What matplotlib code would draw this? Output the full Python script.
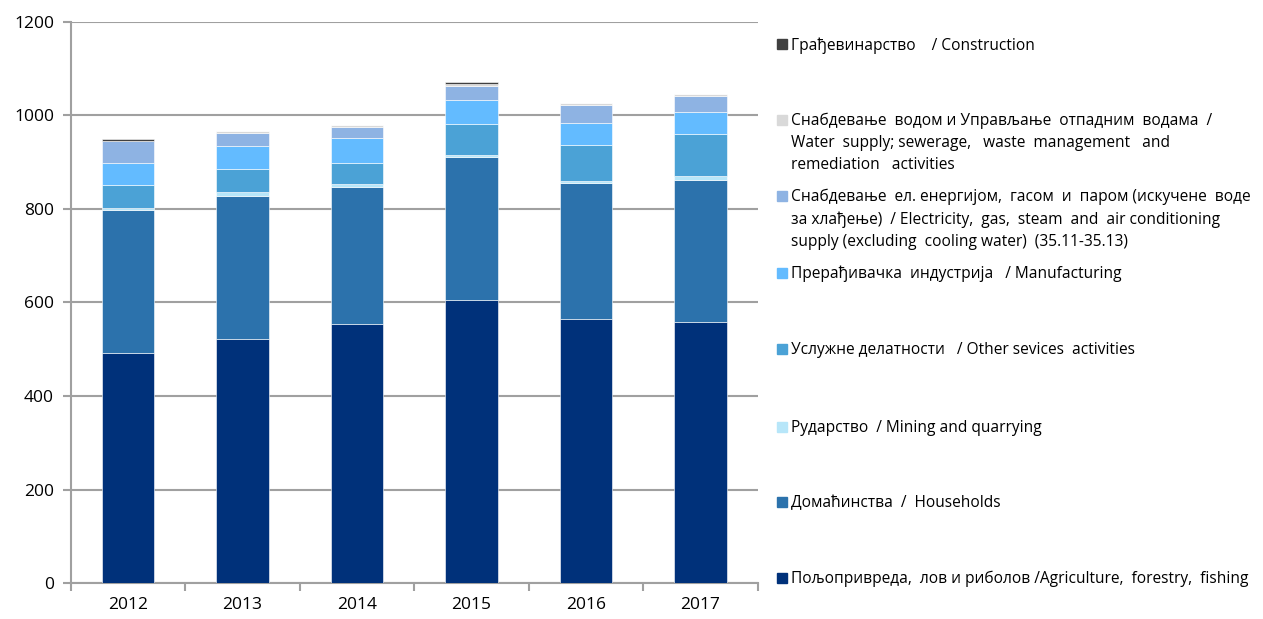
import numpy as np
import matplotlib
matplotlib.use("Agg")
import matplotlib.pyplot as plt
from matplotlib.patches import Rectangle

plt.rcParams['font.family'] = ['Open Sans', 'Noto Sans', 'DejaVu Sans']

years = ['2012', '2013', '2014', '2015', '2016', '2017']

agriculture = [491, 521, 555, 606, 564, 559]
households = [306, 306, 292, 305, 292, 302]
mining = [4, 9, 6, 5, 4, 9]
services = [51, 50, 46, 65, 77, 89]
manufacturing = [47, 48, 52, 52, 47, 48]
electricity = [46, 28, 24, 29, 38, 34]
water = [1, 4, 4, 4, 4, 5]
construction = [4, 0, 0, 5, 0, 0]

series = [agriculture, households, mining, services, manufacturing,
          electricity, water, construction]
colors = ['#00317A', '#2C72AC', '#B7E6F9', '#4BA2D6', '#63BBFF',
          '#8EB3E3', '#D9D9D9', '#404040']
labels = [
    'Пољопривреда,  лов и риболов /Agriculture,  forestry,  fishing',
    'Домаћинства  /  Households',
    'Рударство  / Mining and quarrying',
    'Услужне делатности   / Other sevices  activities',
    'Прерађивачка  индустрија   / Manufacturing',
    'Снабдевање  ел. енергијом,  гасом  и  паром (искучене  воде\n'
    'за хлађење)  / Electricity,  gas,  steam  and  air conditioning\n'
    'supply (excluding  cooling water)  (35.11-35.13)',
    'Снабдевање  водом и Управљање  отпадним  водама  /\n'
    'Water  supply; sewerage,   waste  management   and\n'
    'remediation   activities',
    'Грађевинарство    / Construction',
]

fig = plt.figure(figsize=(12.63, 6.19), dpi=100)
ax = fig.add_axes([0.056, 0.0577, 0.544, 0.9073])

x = np.arange(len(years))
bottom = np.zeros(len(years))
for vals, col in zip(series, colors):
    ax.bar(x, vals, 0.455, bottom=bottom, color=col, edgecolor='white',
           linewidth=0.4, zorder=3)
    bottom += np.array(vals)

ax.set_ylim(0, 1200)
ax.set_xlim(-0.5, 5.5)
ax.set_yticks(np.arange(0, 1201, 200))
ax.grid(axis='y', color='#A0A0A0', linewidth=1.5, zorder=0)
ax.set_xticks(x)
ax.set_xticklabels(years)
ax.set_xticks(np.arange(-0.5, 6, 1), minor=True)
ax.tick_params(axis='x', which='major', length=0, pad=10, labelsize=12.5)
ax.tick_params(axis='x', which='minor', length=6, color='#A0A0A0', width=1.5)
ax.tick_params(axis='y', length=6, color='#A0A0A0', width=1.5, labelsize=12.5, pad=6)
for s in ['top', 'right']:
    ax.spines[s].set_visible(False)
for s in ['left', 'bottom']:
    ax.spines[s].set_color('#A0A0A0')
    ax.spines[s].set_linewidth(1.5)

# legend, drawn by hand to keep the uneven spacing
legend_y = [578, 502, 427, 349, 273, 196, 120, 44]
H = 619.0
W = 1263.0
for lab, col, yy in zip(labels, colors, legend_y):
    fig.patches.append(Rectangle((777 / W, 1 - (yy + 5) / H), 10 / W, 10 / H,
                                 transform=fig.transFigure, color=col))
    fig.text(791 / W, 1 - (yy - 7) / H, lab, fontsize=11.2, va='top',
             ha='left', color='black', linespacing=1.5)

fig.savefig('out.png', dpi=100)
